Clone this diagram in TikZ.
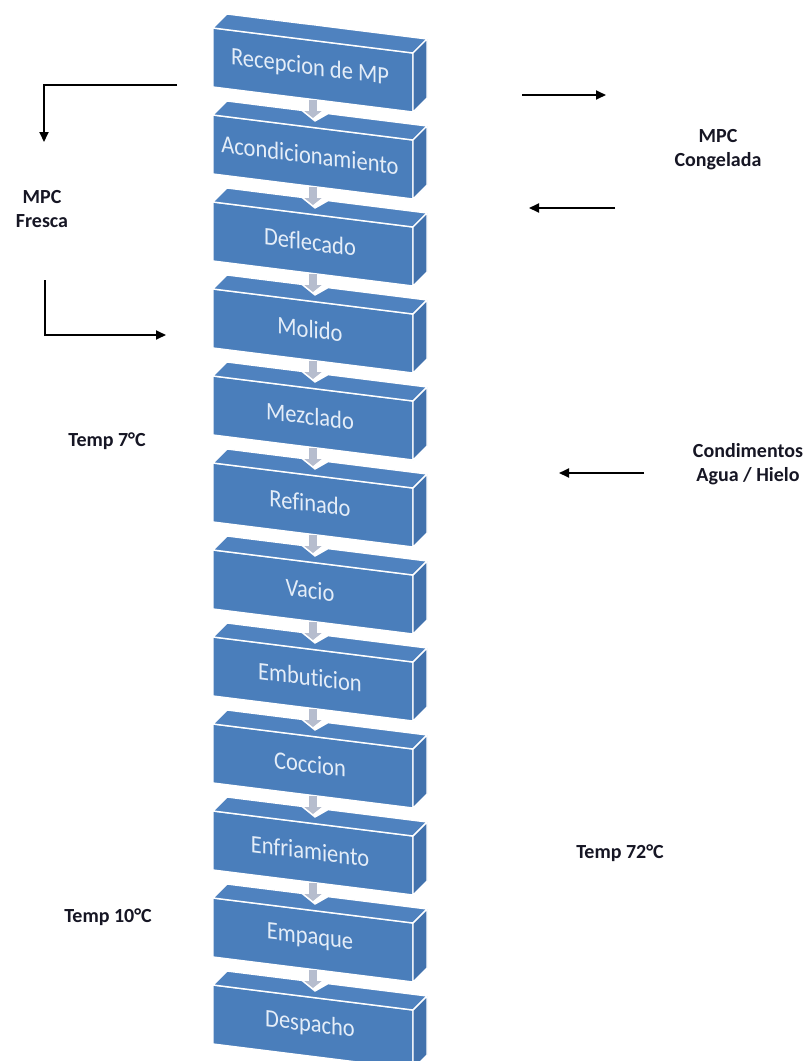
\documentclass[tikz,border=0pt]{standalone}
\usepackage{fontspec}
\setmainfont[Ligatures=NoCommon]{Carlito}
\usetikzlibrary{arrows.meta}
\definecolor{frontc}{RGB}{74,126,187}
\definecolor{topc}{RGB}{79,130,191}
\definecolor{sidec}{RGB}{66,114,173}
\definecolor{txtc}{RGB}{228,237,248}
\definecolor{arrc}{RGB}{182,189,206}
\definecolor{labc}{RGB}{22,22,36}
\tikzset{
  face/.style={draw=white, line width=1.4pt, line join=round},
  boxtext/.style={text=txtc, font=\fontsize{22.5}{24}\selectfont, inner sep=0pt},
  lab/.style={text=labc, font=\bfseries\fontsize{20}{24}\selectfont, align=center, inner sep=0pt},
  flow/.style={line width=1.8pt, line join=miter, -{Triangle[length=10pt,width=9pt]}},
  stepconn/.style={draw=arrc, line width=8pt, -{Triangle[length=7pt,width=17pt]}},
}
\begin{document}
\begin{tikzpicture}[x=1pt,y=-1pt]
\useasboundingbox (0,0) rectangle (811,1061);
\foreach \t [count=\i] in {Recepcion de MP,Acondicionamiento,Deflecado,Molido,Mezclado,Refinado,Vacio,Embuticion,Coccion,Enfriamiento,Empaque,Despacho}{
  \pgfmathsetmacro{\yo}{28+87*(\i-1)}
  \pgfmathsetmacro{\vd}{\i==1 ? -3.1 : 6}
  \filldraw[face, fill=frontc] (213,\yo) -- (413,{\yo+25}) -- (413,{\yo+84}) -- (213,{\yo+59}) -- cycle;
  \filldraw[face, fill=topc] (213,\yo) -- (227,{\yo-14}) -- (302,{\yo-4.6}) -- (315,{\yo+\vd}) -- (328,{\yo-1.4}) -- (427,{\yo+11}) -- (413,{\yo+25}) -- cycle;
  \filldraw[face, fill=sidec] (413,{\yo+25}) -- (427,{\yo+11}) -- (427,{\yo+70}) -- (413,{\yo+84}) -- cycle;
  \node[boxtext, yslant=-0.125, yscale=1.12] (b\i) at (310,{\yo+40}) {\t};
  \coordinate (s\i) at (313,{\yo+72});
  \coordinate (e\i) at (313,{\yo+90});
}
\foreach \i in {1,...,11}{
  \draw[stepconn] (s\i) -- (e\i);
}
% side arrows
\coordinate (p1) at (177,85); \coordinate (p2) at (44,85); \coordinate (p3) at (44,142);
\draw[flow] (p1) -- (p2) -- (p3);
\coordinate (q1) at (45,280); \coordinate (q2) at (45,335); \coordinate (q3) at (166,335);
\draw[flow] (q1) -- (q2) -- (q3);
\coordinate (r1) at (522,95); \coordinate (r2) at (606,95);
\draw[flow] (r1) -- (r2);
\coordinate (u1) at (615,208); \coordinate (u2) at (529,208);
\draw[flow] (u1) -- (u2);
\coordinate (v1) at (644,473); \coordinate (v2) at (559,473);
\draw[flow] (v1) -- (v2);
% labels
\node[lab] (mpcf) at (42,209) {MPC\\Fresca};
\node[lab] (mpcc) at (718,150) {MPC\\Congelada};
\node[lab] (cond) at (748,464) {Condimentos\\Agua / Hielo};
\node[lab] (t7) at (107,441) {Temp 7°C};
\node[lab] (t72) at (620,853) {Temp 72°C};
\node[lab] (t10) at (108,917) {Temp 10°C};
\end{tikzpicture}
\end{document}
